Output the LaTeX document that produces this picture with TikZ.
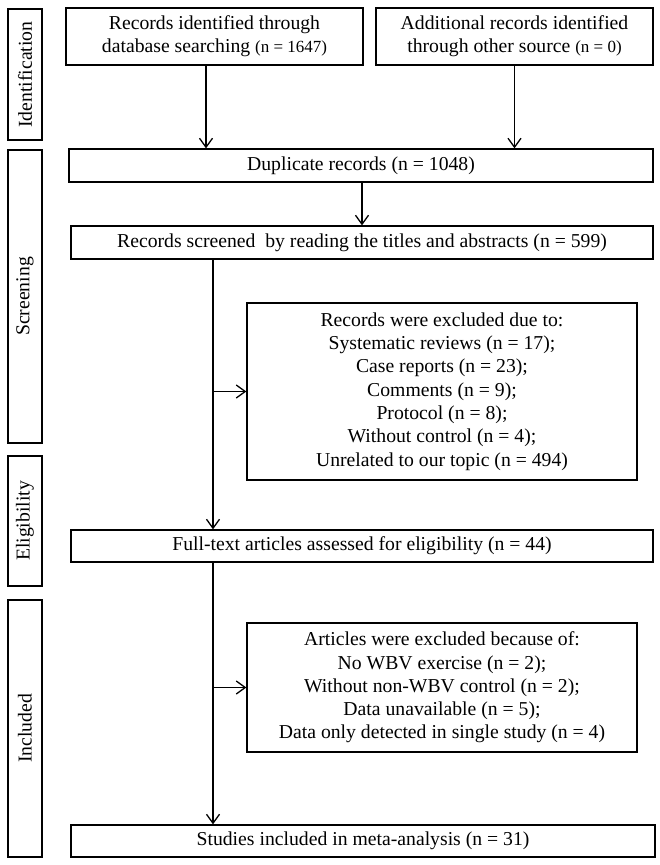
\documentclass[tikz,border=0pt]{standalone}
\usepackage{fontspec}
\setmainfont{Liberation Serif}
\usetikzlibrary{arrows.meta}
\tikzstyle{box}=[draw, line width=1.3pt, align=center, inner sep=2pt]
\tikzstyle{stage}=[draw, line width=1.3pt, rotate=90, minimum height=34pt, inner sep=0pt]
\tikzstyle{flow}=[line width=1.3pt, -{Straight Barb[length=9pt,width=13pt,line width=1.3pt]}]
\newcommand{\nsmall}[1]{{\fontsize{17}{23.3}\selectfont #1}}

\begin{document}
\begin{tikzpicture}[x=1pt,y=-1pt,font=\fontsize{19.7}{23.3}\selectfont]
\useasboundingbox (0,0) rectangle (660,865);
% stages on the left
\node[stage, minimum width=131pt] (ident) at (25,74.5) {Identification};
\node[stage, minimum width=293pt] (screening) at (25,296.5) {Screening};
\node[stage, minimum width=130pt] (elig) at (25,521) {Eligibility};
\node[stage, minimum width=257pt] (incl) at (25,728.5) {Included};
% flow boxes
\node[box, minimum width=297pt, minimum height=57pt] (dbase) at (214.5,36.5)
  {Records identified through\\database searching \nsmall{(n = 1647)}};
\node[box, minimum width=277pt, minimum height=57pt] (other) at (514.5,36.5)
  {Additional records identified\\through other source \nsmall{(n = 0)}};
\node[box, minimum width=584pt, minimum height=33pt] (dup) at (361,165.5)
  {Duplicate records (n = 1048)};
\node[box, minimum width=582pt, minimum height=33pt] (screen) at (362,242.5)
  {Records screened\ \ by reading the titles and abstracts (n = 599)};
\node[box, minimum width=390pt, minimum height=177pt] (excl1) at (442,391.5)
  {Records were excluded due to:\\Systematic reviews (n = 17);\\Case reports (n = 23);\\
   Comments (n = 9);\\Protocol (n = 8);\\Without control (n = 4);\\Unrelated to our topic (n = 494)};
\node[box, minimum width=582pt, minimum height=32pt] (full) at (362,546)
  {Full-text articles assessed for eligibility (n = 44)};
\node[box, minimum width=390pt, minimum height=129pt] (excl2) at (442,687.5)
  {Articles were excluded because of:\\No WBV exercise (n = 2);\\Without non-WBV control (n = 2);\\
   Data unavailable (n = 5);\\Data only detected in single study (n = 4)};
\node[box, minimum width=584pt, minimum height=32pt] (studies) at (363,841)
  {Studies included in meta-analysis (n = 31)};
% connectors
\coordinate (left) at (206,0);
\coordinate (trunk) at (213,0);
\draw[flow] (dbase.south -| left) -- (dup.north -| left);
\draw[flow] (other.south) -- (other.south |- dup.north);
\draw[flow] (dup.south -| screen.north) -- (screen.north);
\draw[flow] (screen.south -| trunk) -- (full.north -| trunk);
\draw[flow] (excl1.west -| trunk) -- (excl1.west);
\draw[flow] (full.south -| trunk) -- (studies.north -| trunk);
\draw[flow] (excl2.west -| trunk) -- (excl2.west);
\end{tikzpicture}
\end{document}
